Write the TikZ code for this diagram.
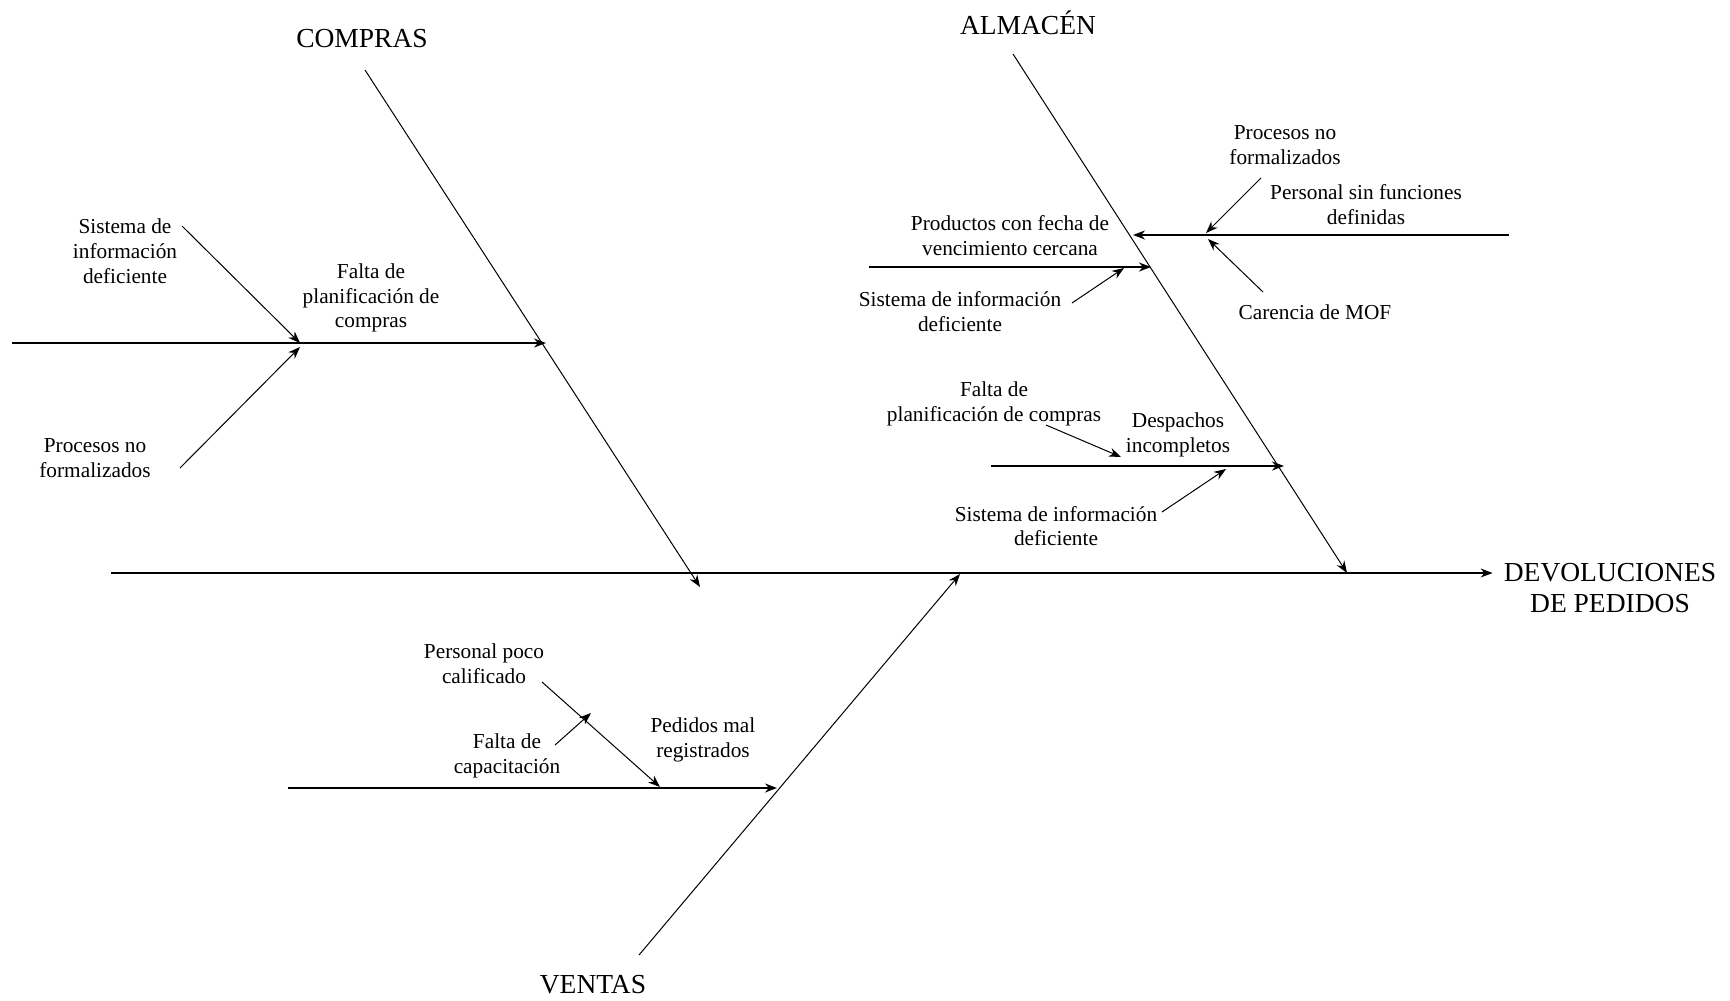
\documentclass[tikz,border=0pt]{standalone}
\usepackage{fontspec}
\setmainfont{Liberation Serif}
\usetikzlibrary{arrows.meta,positioning}

\begin{document}
\begin{tikzpicture}[x=1pt,y=-1pt,
    lbl/.style={font=\fontsize{21.3}{24.8}\selectfont,align=center,inner sep=1pt},
    cat/.style={font=\fontsize{27.5}{31}\selectfont,align=center,inner sep=1pt},
    bone/.style={line width=1pt,-{Stealth[length=12pt,width=9pt]}},
    sub/.style={line width=1.6pt,-{Stealth[length=12pt,width=9pt]}},
    cause/.style={line width=1pt,-{Stealth[length=12pt,width=9pt]}}
  ]
  \useasboundingbox (0,0) rectangle (1730,1001);

  % spine and effect
  \node[cat] (efecto) at (1610,588) {DEVOLUCIONES\\DE PEDIDOS};
  \coordinate (cola) at (111,573);
  \draw[sub,line width=1.4pt,shorten >=10pt] (cola) -- (cola -| efecto.west);

  % COMPRAS
  \node[cat] (compras) at (362,39) {COMPRAS};
  \coordinate (c0) at (365,70);
  \coordinate (c1) at (700,587);
  \draw[bone] (c0) -- (c1);
  \coordinate (cs0) at (12,343);
  \coordinate (cs1) at (546,343);
  \draw[sub] (cs0) -- (cs1);
  \node[lbl] (cplan) at (371,298) {Falta de\\planificación de\\compras};
  \node[lbl] (csist) at (125,251) {Sistema de\\información\\deficiente};
  \node[lbl] (cproc) at (95,458) {Procesos no\\formalizados};
  \coordinate (csa) at (182,226);
  \coordinate (csb) at (300,343);
  \coordinate (cpa) at (180,468);
  \coordinate (cpb) at (300,347);
  \draw[cause] (csa) -- (csb);
  \draw[cause] (cpa) -- (cpb);

  % ALMACEN
  \node[cat] (almacen) at (1028,23) {ALMACÉN};
  \coordinate (a0) at (1013,54);
  \coordinate (a1) at (1347,573);
  \draw[bone] (a0) -- (a1);
  % personal sin funciones
  \coordinate (ap0) at (1509,235);
  \coordinate (ap1) at (1133,235);
  \draw[sub] (ap0) -- (ap1);
  \node[lbl] (apers) at (1366,205) {Personal sin funciones\\definidas};
  \node[lbl] (aproc) at (1285,145) {Procesos no\\formalizados};
  \node[lbl] (amof) at (1315,312) {Carencia de MOF};
  \coordinate (apa) at (1261,178);
  \coordinate (apb) at (1206,233);
  \coordinate (ama) at (1263,292);
  \coordinate (amb) at (1208,239);
  \draw[cause] (apa) -- (apb);
  \draw[cause] (ama) -- (amb);
  % productos con fecha
  \coordinate (av0) at (869,267);
  \coordinate (av1) at (1151,267);
  \draw[sub] (av0) -- (av1);
  \node[lbl] (aprod) at (1010,236) {Productos con fecha de\\vencimiento cercana};
  \node[lbl] (asist) at (960,312) {Sistema de información\\deficiente};
  \coordinate (asa) at (1072,303);
  \coordinate (asb) at (1124,268);
  \draw[cause] (asa) -- (asb);
  % despachos incompletos
  \coordinate (ad0) at (991,466);
  \coordinate (ad1) at (1284,466);
  \draw[sub] (ad0) -- (ad1);
  \node[lbl] (adesp) at (1178,435) {Despachos\\incompletos};
  \node[lbl] (aplan) at (994,404) {Falta de\\planificación de compras};
  \node[lbl] (asist2) at (1056,526) {Sistema de información\\deficiente};
  \coordinate (afa) at (1046,425);
  \coordinate (afb) at (1121,457);
  \coordinate (aia) at (1162,512);
  \coordinate (aib) at (1226,469);
  \draw[cause] (afa) -- (afb);
  \draw[cause] (aia) -- (aib);

  % VENTAS
  \node[cat] (ventas) at (593,985) {VENTAS};
  \coordinate (v0) at (639,955);
  \coordinate (v1) at (960,574);
  \draw[bone] (v0) -- (v1);
  \coordinate (vs0) at (288,788);
  \coordinate (vs1) at (777,788);
  \draw[sub] (vs0) -- (vs1);
  \node[lbl] (vped) at (703,740) {Pedidos mal\\registrados};
  \node[lbl] (vpers) at (484,664) {Personal poco\\calificado};
  \node[lbl] (vcap) at (507,756) {Falta de\\capacitación};
  \coordinate (vpa) at (542,682);
  \coordinate (vpb) at (660,787);
  \coordinate (vca) at (555,745);
  \coordinate (vcb) at (591,713);
  \draw[cause] (vpa) -- (vpb);
  \draw[cause] (vca) -- (vcb);
\end{tikzpicture}
\end{document}
